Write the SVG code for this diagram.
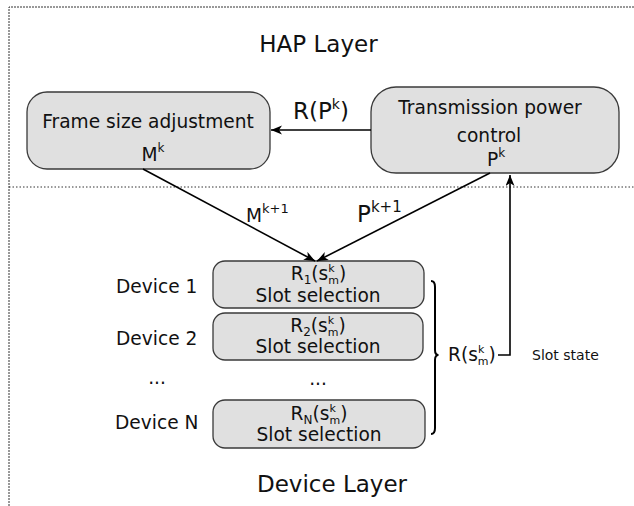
<svg xmlns="http://www.w3.org/2000/svg" width="634" height="506" viewBox="0 0 634 506">
<style>
text{font-family:"DejaVu Sans","Noto Sans",sans-serif;fill:#111;}
.t{font-size:18.6px;}
.big{font-size:23px;}
.sm{font-size:14px;}
.box{fill:#e0e0e0;stroke:#3a3a3a;stroke-width:1.3;}
.ln{stroke:#000;stroke-width:1.6;fill:none;}
</style>
<defs>
<marker id="ah" markerUnits="userSpaceOnUse" markerWidth="12" markerHeight="10" refX="11" refY="4.5" orient="auto">
<path d="M0,0 L11,4.5 L0,9 L3,4.5 Z" fill="#000"/>
</marker>
</defs>
<rect width="634" height="506" fill="#fff"/>
<g id="frames">
<path d="M9,506 L9,7 L634,7" fill="none" stroke="#333" stroke-width="1" stroke-dasharray="2,1"/>
<path d="M9,187 L634,187" fill="none" stroke="#333" stroke-width="1" stroke-dasharray="1.5,2"/>
<text class="big" x="318.5" y="52" text-anchor="middle">HAP Layer</text>
<text class="big" x="332" y="492" text-anchor="middle">Device Layer</text>
</g>
<g id="frame-size">
<rect class="box" x="27" y="92" width="243" height="77" rx="20"/>
<text class="t" x="148" y="128" text-anchor="middle">Frame size adjustment</text>
<text class="t" x="153" y="161" text-anchor="middle">M<tspan font-size="12" dy="-9">k</tspan></text>
</g>
<g id="tx-power">
<rect class="box" x="371" y="87" width="248" height="86" rx="25"/>
<text class="t" x="490" y="114" text-anchor="middle">Transmission power</text>
<text class="t" x="489" y="142" text-anchor="middle">control</text>
<text class="t" x="496" y="166" text-anchor="middle">P<tspan font-size="12" dy="-9">k</tspan></text>
</g>
<g id="device1">
<text class="t" x="116" y="293" font-size="18">Device 1</text>
<rect class="box" x="213" y="261" width="211" height="47" rx="12"/>
<text class="t" x="318.5" y="280" text-anchor="middle">R<tspan font-size="12" dy="4">1</tspan><tspan dy="-4">(s</tspan><tspan font-size="11" dy="-8">k</tspan><tspan font-size="11" dx="-6.4" dy="12">m</tspan><tspan dy="-4">)</tspan></text>
<text class="t" x="318" y="302" text-anchor="middle">Slot selection</text>
</g>
<g id="device2">
<text class="t" x="116" y="345">Device 2</text>
<rect class="box" x="213" y="313" width="210" height="47" rx="12"/>
<text class="t" x="318" y="332" text-anchor="middle">R<tspan font-size="12" dy="4">2</tspan><tspan dy="-4">(s</tspan><tspan font-size="11" dy="-8">k</tspan><tspan font-size="11" dx="-6.4" dy="12">m</tspan><tspan dy="-4">)</tspan></text>
<text class="t" x="318" y="353" text-anchor="middle">Slot selection</text>
</g>
<g id="ellipsis">
<text class="t" x="157" y="384" text-anchor="middle">...</text>
<text class="t" x="318" y="385" text-anchor="middle">...</text>
</g>
<g id="deviceN">
<text class="t" x="115" y="429">Device N</text>
<rect class="box" x="213" y="400" width="212" height="48" rx="12"/>
<text class="t" x="319" y="420" text-anchor="middle">R<tspan font-size="12" dy="4">N</tspan><tspan dy="-4">(s</tspan><tspan font-size="11" dy="-8">k</tspan><tspan font-size="11" dx="-6.4" dy="12">m</tspan><tspan dy="-4">)</tspan></text>
<text class="t" x="319" y="441" text-anchor="middle">Slot selection</text>
</g>
<g id="connectors">
<line class="ln" x1="371" y1="130" x2="271" y2="130" marker-end="url(#ah)"/>
<line class="ln" x1="143" y1="169" x2="315" y2="261" marker-end="url(#ah)"/>
<line class="ln" x1="490" y1="173" x2="317" y2="261" marker-end="url(#ah)"/>
<path class="ln" d="M498,355 L510,355 L510,175" marker-end="url(#ah)"/>
<path d="M431,281 Q435,281 435,287 L435,350 Q435,355 438.5,355 Q435,355 435,360 L435,428 Q435,434 431,434" fill="none" stroke="#000" stroke-width="2"/>
<text class="big" x="293" y="119">R(P<tspan font-size="14" dy="-10">k</tspan><tspan dy="10">)</tspan></text>
<text class="t" x="246" y="222">M<tspan font-size="13" dy="-9">k+1</tspan></text>
<text class="big" x="357" y="222">P<tspan font-size="15" dy="-10">k+1</tspan></text>
<text class="t" x="448" y="361">R(s<tspan font-size="11" dy="-8">k</tspan><tspan font-size="11" dx="-6.4" dy="12">m</tspan><tspan dy="-4">)</tspan></text>
<text class="sm" x="532" y="360">Slot state</text>
</g>
</svg>
